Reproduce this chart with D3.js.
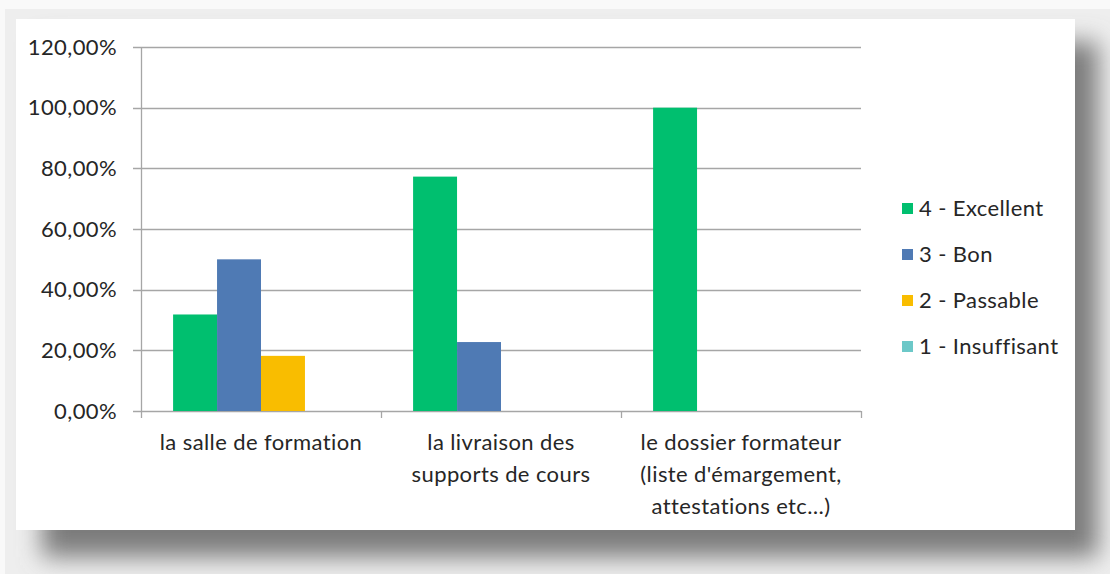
<!DOCTYPE html>
<html>
<head>
<meta charset="utf-8">
<script src="https://cdn.jsdelivr.net/npm/d3@7"></script>
<style>
  body { margin: 0; background: #ffffff; }
  text { font-family: Lato, sans-serif; fill: #262626; letter-spacing: 0.4px; }
</style>
</head>
<body>
<div id="chart"></div>
<script>
const categories = [
  ['la salle de formation'],
  ['la livraison des', 'supports de cours'],
  ['le dossier formateur', "(liste d'émargement,", 'attestations etc…)']
]
const seriesNames = ['4 - Excellent', '3 - Bon', '2 - Passable', '1 - Insuffisant']
const seriesColors = ['#00bf6f', '#4f7ab4', '#f9bd00', '#6cc8c8']
// values per series, one per category (fraction)
const excellent = [0.3182, 0.7727, 1.0]
const bon = [0.50, 0.2273, 0]
const passable = [0.1818, 0, 0]
const insuffisant = [0, 0, 0]
const yTicks = [0, 0.2, 0.4, 0.6, 0.8, 1.0, 1.2]

const seriesValues = [excellent, bon, passable, insuffisant]
const W = 1110
const H = 574
const panel = { x: 16, y: 19, w: 1059, h: 511 }
const plot = { left: 141, right: 861, top: 47, bottom: 411 }
const fontSize = 22

const svg = d3.select('#chart').append('svg')
  .attr('width', W)
  .attr('height', H)

svg.append('defs').append('filter')
  .attr('id', 'shadow')
  .attr('filterUnits', 'userSpaceOnUse')
  .attr('x', 0).attr('y', 0).attr('width', W).attr('height', H)
  .append('feGaussianBlur').attr('stdDeviation', 12)

// frame background and soft shadow
svg.append('rect')
  .attr('width', W).attr('height', H)
  .attr('fill', '#f9f9f9')
svg.append('rect')
  .attr('x', 5).attr('y', 9)
  .attr('width', W - 5).attr('height', H - 9)
  .attr('fill', '#eeeeee')
svg.append('rect')
  .attr('x', 42).attr('y', 42)
  .attr('width', 1098 - 42).attr('height', 557 - 42)
  .attr('fill', '#7c7c7c')
  .attr('filter', 'url(#shadow)')

svg.append('rect')
  .attr('x', panel.x).attr('y', panel.y)
  .attr('width', panel.w).attr('height', panel.h)
  .attr('fill', '#ffffff')

const x0 = d3.scaleBand()
  .domain(d3.range(categories.length))
  .range([plot.left, plot.right])

const x1 = d3.scaleBand()
  .domain(d3.range(seriesNames.length))
  .range([0, x0.bandwidth()])
  .paddingOuter(0.73)

const y = d3.scaleLinear()
  .domain([0, 1.2])
  .range([plot.bottom, plot.top])

// gridlines
svg.append('g')
  .selectAll('line')
  .data(yTicks)
  .join('line')
  .attr('x1', plot.left - 8)
  .attr('x2', plot.right)
  .attr('y1', d => Math.round(y(d)) + 0.5)
  .attr('y2', d => Math.round(y(d)) + 0.5)
  .attr('stroke', '#a6a6a6')
  .attr('stroke-width', 1.3)

// y labels
const fmt = d => (d * 100).toFixed(2).replace('.', ',') + '%'
svg.append('g')
  .selectAll('text')
  .data(yTicks)
  .join('text')
  .attr('x', 117)
  .attr('y', d => y(d))
  .attr('dy', '0.35em')
  .attr('text-anchor', 'end')
  .attr('font-size', fontSize)
  .text(fmt)

// bars
const groups = svg.append('g')
  .selectAll('g')
  .data(seriesValues)
  .join('g')
  .attr('fill', (d, i) => seriesColors[i])

groups.each(function (vals, si) {
  d3.select(this).selectAll('rect')
    .data(vals)
    .join('rect')
    .attr('x', (d, ci) => x0(ci) + x1(si))
    .attr('y', d => y(d))
    .attr('width', x1.bandwidth())
    .attr('height', d => y(0) - y(d))
})

// axes lines
svg.append('line')
  .attr('x1', plot.left + 0.5).attr('x2', plot.left + 0.5)
  .attr('y1', plot.top).attr('y2', plot.bottom + 7)
  .attr('stroke', '#a6a6a6').attr('stroke-width', 1.3)

svg.append('g')
  .selectAll('line')
  .data(d3.range(1, categories.length + 1))
  .join('line')
  .attr('x1', d => x0.step() * d + plot.left + 0.5)
  .attr('x2', d => x0.step() * d + plot.left + 0.5)
  .attr('y1', plot.bottom)
  .attr('y2', plot.bottom + 7)
  .attr('stroke', '#a6a6a6').attr('stroke-width', 1.3)

// x labels
svg.append('g')
  .selectAll('text')
  .data(categories)
  .join('text')
  .attr('text-anchor', 'middle')
  .attr('font-size', fontSize)
  .each(function (lines, i) {
    d3.select(this).selectAll('tspan')
      .data(lines)
      .join('tspan')
      .attr('x', x0(i) + x0.bandwidth() / 2)
      .attr('y', (d, j) => 442 + j * 32)
      .attr('dy', '0.35em')
      .text(d => d)
  })

// legend
const legend = svg.append('g')
  .selectAll('g')
  .data(seriesNames)
  .join('g')
  .attr('transform', (d, i) => `translate(902, ${208 + i * 46})`)

legend.append('rect')
  .attr('x', 0).attr('y', -5)
  .attr('width', 11).attr('height', 11)
  .attr('fill', (d, i) => seriesColors[i])

legend.append('text')
  .attr('x', 17)
  .attr('dy', '0.35em')
  .attr('font-size', fontSize)
  .text(d => d)
</script>
</body>
</html>
